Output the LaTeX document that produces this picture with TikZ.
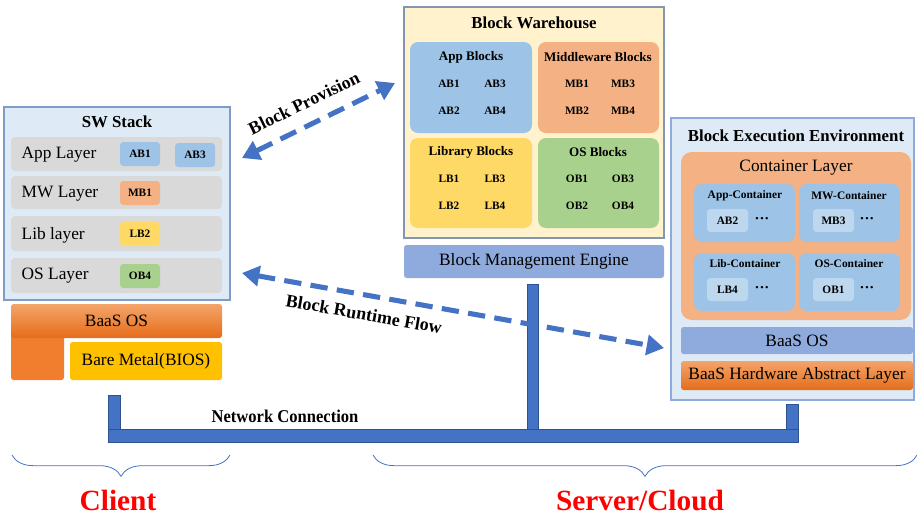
\documentclass[tikz,border=0pt]{standalone}
\usepackage{fontspec}
\setmainfont{Liberation Serif}
\usetikzlibrary{fit,arrows.meta,decorations.pathreplacing}
\definecolor{swfill}{HTML}{DEEBF7}
\definecolor{swborder}{HTML}{7F9CC8}
\definecolor{rowgray}{HTML}{D9D9D9}
\definecolor{appblue}{HTML}{9DC3E6}
\definecolor{lightblue}{HTML}{BDD7EE}
\definecolor{mworange}{HTML}{F4B183}
\definecolor{libyellow}{HTML}{FFD966}
\definecolor{osgreen}{HTML}{A9D18E}
\definecolor{whfill}{HTML}{FFF2CC}
\definecolor{whborder}{HTML}{8497B0}
\definecolor{bmefill}{HTML}{8FAADC}
\definecolor{netblue}{HTML}{4472C4}
\definecolor{netborder}{HTML}{2F528F}
\definecolor{orangetop}{HTML}{F4A46A}
\definecolor{orangebot}{HTML}{E56D1A}
\definecolor{orangeflat}{HTML}{F07E2E}
\definecolor{gold}{HTML}{FFC000}
\begin{document}
\begin{tikzpicture}[x=0.75pt,y=-0.75pt,
  box/.style={inner sep=0pt, outer sep=0pt},
  panel/.style={box, draw=#1, line width=0.8pt},
  row/.style={box, fill=rowgray, rounded corners=3pt},
  blk/.style={box, rounded corners=2.5pt},
  grp/.style={box, rounded corners=6pt},
  layertxt/.style={anchor=west, font=\fontsize{13}{15}\selectfont},
  btag/.style={font=\bfseries\fontsize{8.5}{10}\selectfont},
  ctag/.style={font=\bfseries\fontsize{8.6}{10}\selectfont},
  dots/.style={font=\bfseries\fontsize{11}{12}\selectfont},
  gtitle/.style={font=\bfseries\fontsize{9.8}{11}\selectfont},
  ptitle/.style={font=\bfseries\fontsize{12.6}{14}\selectfont},
  plain/.style={font=\fontsize{13}{15}\selectfont},
  orangegrad/.style={top color=orangetop, bottom color=orangebot},
  netbar/.style={box, fill=netblue, draw=netborder, line width=0.4pt},
  flow/.style={draw=netblue, line width=3.8pt, dash pattern=on 13pt off 7pt,
    {Triangle[length=13pt,width=15pt]}-{Triangle[length=13pt,width=15pt]}},
  flowtxt/.style={font=\bfseries\fontsize{13.5}{15}\selectfont},
  bracestyle/.style={draw=netblue, line width=0.6pt, decorate,
    decoration={brace, amplitude=16pt}},
  sidetxt/.style={text=red, font=\bfseries\fontsize{22}{25}\selectfont}
]
\useasboundingbox (0,0) rectangle (917,519);

% ---------------- SW Stack ----------------
\node[panel=swborder, fill=swfill, fit={(4,107)(230,300)}] (sw) {};
\node[ptitle] (swt) at (117,122) {SW Stack};
\node[row, fit={(11,137)(222,171)}] (rapp) {};
\node[row, fit={(11,176)(222,209)}] (rmw) {};
\node[row, fit={(11,216)(222,251)}] (rlib) {};
\node[row, fit={(11,258)(222,293)}] (ros) {};
\node[layertxt] (tapp) at (17,155) {App Layer};
\node[layertxt] (tmw) at (17,194) {MW Layer};
\node[layertxt] (tlib) at (17,235) {Lib layer};
\node[layertxt] (tos) at (17,276) {OS Layer};
\node[blk, fill=appblue, fit={(120,142)(160,166)}] (sab1) {};
\node[btag] at (sab1) {AB1};
\node[blk, fill=appblue, fit={(175,143)(215,167)}] (sab3) {};
\node[btag] at (sab3) {AB3};
\node[blk, fill=mworange, fit={(120,181)(160,205)}] (smb1) {};
\node[btag] at (smb1) {MB1};
\node[blk, fill=libyellow, fit={(120,222)(160,246)}] (slb2) {};
\node[btag] at (slb2) {LB2};
\node[blk, fill=osgreen, fit={(120,264)(160,288)}] (sob4) {};
\node[btag] at (sob4) {OB4};

% client base
\node[box, fill=orangeflat, rounded corners=2pt, fit={(11,330)(64,380)}] (lfoot) {};
\node[box, orangegrad, rounded corners=2pt, fit={(11,304)(222,338)}] (cbaas) {};
\node[plain] at (cbaas) {BaaS OS};
\node[box, fill=gold, rounded corners=2pt, fit={(70,342)(222,380)}] (bios) {};
\node[plain] at (bios) {Bare Metal(BIOS)};

% ---------------- Block Warehouse ----------------
\node[panel=whborder, fill=whfill, fit={(404,7)(664,238)}] (wh) {};
\node[ptitle] (wht) at (534,23) {Block Warehouse};
\node[grp, fill=appblue, fit={(410,42)(532,133)}] (gapp) {};
\node[grp, fill=mworange, fit={(538,42)(659,133)}] (gmw) {};
\node[grp, fill=libyellow, fit={(410,138)(532,228)}] (glib) {};
\node[grp, fill=osgreen, fit={(538,138)(659,228)}] (gos) {};
\node[gtitle] at (471,57) {App Blocks};
\node[gtitle] at (598,57) {Middleware Blocks};
\node[gtitle] at (471,152) {Library Blocks};
\node[gtitle] at (598,152) {OS Blocks};
\node[btag] (wab1) at (449,84) {AB1};
\node[btag] (wab3) at (495,84) {AB3};
\node[btag] (wab2) at (449,111) {AB2};
\node[btag] (wab4) at (495,111) {AB4};
\node[btag] (wmb1) at (577,84) {MB1};
\node[btag] (wmb3) at (623,84) {MB3};
\node[btag] (wmb2) at (577,111) {MB2};
\node[btag] (wmb4) at (623,111) {MB4};
\node[btag] (wlb1) at (449,179) {LB1};
\node[btag] (wlb3) at (495,179) {LB3};
\node[btag] (wlb2) at (449,206) {LB2};
\node[btag] (wlb4) at (495,206) {LB4};
\node[btag] (wob1) at (577,179) {OB1};
\node[btag] (wob3) at (623,179) {OB3};
\node[btag] (wob2) at (577,206) {OB2};
\node[btag] (wob4) at (623,206) {OB4};
\node[box, fill=bmefill, rounded corners=2pt, fit={(404,245)(664,278)}] (bme) {};
\node[plain] at (bme) {Block Management Engine};

% ---------------- Block Execution Environment ----------------
\node[panel=bmefill, fill=swfill, fit={(671,118)(914,400)}] (bee) {};
\node[ptitle] (beet) at (796,136) {Block Execution Environment};
\node[box, fill=mworange, rounded corners=8pt, fit={(681,152)(911,320)}] (cl) {};
\node[plain] at (796,168) {Container Layer};
\node[grp, fill=appblue, fit={(694,184)(795,242)}] (capp) {};
\node[grp, fill=appblue, fit={(799,184)(900,242)}] (cmw) {};
\node[grp, fill=appblue, fit={(694,253)(795,311)}] (clib) {};
\node[grp, fill=appblue, fit={(799,253)(900,311)}] (cos) {};
\node[ctag] at (745,196) {App-Container};
\node[ctag] at (849,196) {MW-Container};
\node[ctag] at (745,264) {Lib-Container};
\node[ctag] at (849,264) {OS-Container};
\node[blk, fill=lightblue, fit={(707,209)(748,232)}] (cab2) {};
\node[btag] at (cab2) {AB2};
\node[blk, fill=lightblue, fit={(813,209)(854,232)}] (cmb3) {};
\node[btag] at (cmb3) {MB3};
\node[blk, fill=lightblue, fit={(707,278)(748,301)}] (clb4) {};
\node[btag] at (clb4) {LB4};
\node[blk, fill=lightblue, fit={(813,278)(854,301)}] (cob1) {};
\node[btag] at (cob1) {OB1};
\node[dots] at (762,220) {···};
\node[dots] at (867,220) {···};
\node[dots] at (762,289) {···};
\node[dots] at (867,289) {···};
\node[box, fill=bmefill, rounded corners=2pt, fit={(681,327)(913,354)}] (sbaas) {};
\node[plain] at (sbaas) {BaaS OS};
\node[box, orangegrad, rounded corners=2pt, fit={(681,361)(913,390)}] (hal) {};
\node[plain] at (hal) {BaaS Hardware Abstract Layer};

% ---------------- Network ----------------
\node[netbar, fit={(108,395)(120,430)}] (nl) {};
\node[netbar, fit={(527,284)(538,430)}] (nm) {};
\node[netbar, fit={(786,404)(798,430)}] (nr) {};
\node[netbar, fit={(108,429)(798,442)}] (nh) {};
\node[font=\bfseries\fontsize{13.5}{15}\selectfont, xscale=0.92] (nettxt) at (285,416) {Network Connection};

% ---------------- Flows ----------------
\coordinate (bpA) at (242,158);
\coordinate (bpB) at (395,83);
\draw[flow] (bpA) -- (bpB);
\node[flowtxt, rotate=26] (bptxt) at (304,103) {Block Provision};
\coordinate (rfA) at (242,273);
\coordinate (rfB) at (664,348);
\draw[flow] (rfA) -- (rfB);
\node[flowtxt, rotate=-10] (rftxt) at (364,314) {Block Runtime Flow};

% ---------------- Braces ----------------
\coordinate (cb1) at (230,455);
\coordinate (cb2) at (12,455);
\draw[bracestyle] (cb1) -- (cb2);
\coordinate (sb1) at (917,455);
\coordinate (sb2) at (373,455);
\draw[bracestyle] (sb1) -- (sb2);
\node[sidetxt] (client) at (118,500) {Client};
\node[sidetxt] (server) at (640,500) {Server/Cloud};
\end{tikzpicture}
\end{document}
